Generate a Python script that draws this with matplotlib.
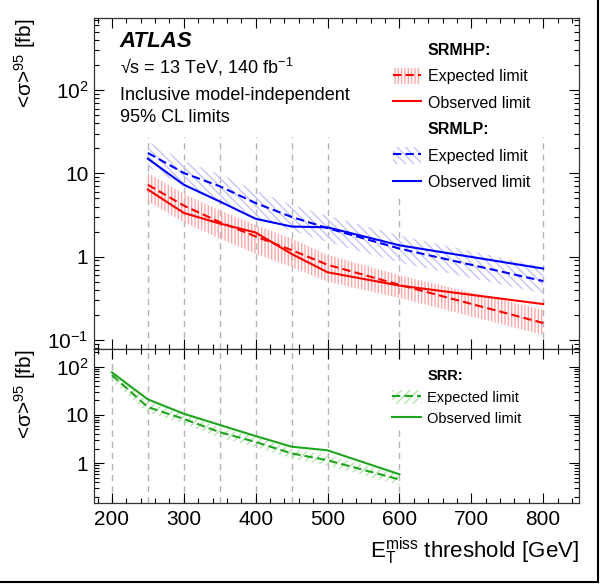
import matplotlib

matplotlib.use("Agg")
import matplotlib.pyplot as plt
from matplotlib.lines import Line2D
from matplotlib.patches import Patch
from matplotlib.ticker import FixedLocator, FuncFormatter, LogLocator, MultipleLocator, NullFormatter

plt.rcParams["font.family"] = ["Liberation Sans", "DejaVu Sans"]
plt.rcParams["mathtext.fontset"] = "custom"
plt.rcParams["mathtext.rm"] = "Liberation Sans"
plt.rcParams["mathtext.it"] = "Liberation Sans:italic"
plt.rcParams["mathtext.bf"] = "Liberation Sans:bold"
plt.rcParams["hatch.linewidth"] = 1.0

# ---- data ----
x_mhp = [250, 300, 350, 400, 450, 500, 600, 800]
mhp_exp = [7.3, 4.1, 2.6, 1.75, 1.2, 0.8, 0.46, 0.16]
mhp_obs = [6.4, 3.35, 2.5, 1.95, 1.08, 0.65, 0.45, 0.27]
mhp_lo = [4.6, 2.6, 1.65, 1.08, 0.75, 0.5, 0.32, 0.115]
mhp_hi = [10.1, 5.7, 3.6, 2.4, 1.65, 1.05, 0.6, 0.23]

x_mlp = [250, 300, 350, 400, 450, 500, 600, 800]
mlp_exp = [17.6, 10.1, 7.0, 4.4, 3.0, 2.2, 1.25, 0.51]
mlp_obs = [15.0, 7.3, 4.6, 2.85, 2.3, 2.25, 1.37, 0.72]
mlp_lo = [12.0, 7.0, 4.8, 3.0, 2.05, 1.5, 0.85, 0.36]
mlp_hi = [24.0, 14.0, 9.8, 6.2, 4.2, 3.1, 1.8, 0.75]

x_rr = [200, 250, 300, 350, 400, 450, 500, 600]
rr_exp = [67, 14.5, 8.3, 4.4, 2.75, 1.6, 1.15, 0.46]
rr_obs = [76, 21.0, 10.6, 6.2, 3.65, 2.2, 1.85, 0.59]
rr_lo = [50, 11.2, 6.5, 3.4, 2.15, 1.25, 0.9, 0.35]
rr_hi = [85, 18.4, 10.4, 5.5, 3.45, 2.0, 1.45, 0.58]

top_yticks = [0.1, 1, 10, 100]
bot_yticks = [1, 10, 100]

RED, BLUE, GREEN = "#ff0000", "#0000ff", "#1fa51f"
RED_H, BLUE_H, GREEN_H = "#ffa8a8", "#c4c4f8", "#b4e2ae"
HATCH_MHP, HATCH_MLP, HATCH_RR = "|||||", "\\\\\\\\", "////"
GRID = "#b4b4b4"
EXP_DASH = (4, 2)


def _log_label(v, _pos=None):
    if v == 1:
        return "1"
    if v == 10:
        return "10"
    if v == 100:
        return r"$10^{2}$"
    if abs(v - 0.1) < 1e-9:
        return r"$10^{-1}$"
    return ""


def _style_axis(ax, ylim):
    ax.set_xlim(175, 850)
    ax.set_yscale("log")
    ax.set_ylim(*ylim)
    ax.xaxis.set_major_locator(MultipleLocator(100))
    ax.xaxis.set_minor_locator(MultipleLocator(20))
    ax.yaxis.set_minor_locator(LogLocator(base=10, subs=range(2, 10), numticks=20))
    ax.yaxis.set_minor_formatter(NullFormatter())
    ax.tick_params(which="both", direction="in", top=True, right=True, labelsize=15, width=0.8)
    ax.tick_params(which="major", length=7.5)
    ax.tick_params(which="minor", length=3.8)
    ax.tick_params(axis="x", pad=5)
    ax.tick_params(axis="y", pad=4)
    for sp in ax.spines.values():
        sp.set_linewidth(0.9)
        sp.set_color("#333333")


def _band(ax, x, lo, hi, exp, obs, color, hcolor, hatch):
    ax.fill_between(x, lo, hi, facecolor="none", edgecolor=hcolor, hatch=hatch, linewidth=0, zorder=2)
    ax.plot(x, exp, color=color, lw=1.5, dashes=EXP_DASH, zorder=3)
    ax.plot(x, obs, color=color, lw=1.5, zorder=3)


def _handles(color, hcolor, hatch):
    exp = (Patch(facecolor="none", edgecolor=hcolor, hatch=hatch, linewidth=0),
           Line2D([], [], color=color, lw=1.5, dashes=EXP_DASH))
    obs = Line2D([], [], color=color, lw=1.5)
    return exp, obs


fig = plt.figure(figsize=(6.02, 5.85), dpi=100)
ax_top = fig.add_axes([0.156, 0.4034, 0.806, 0.5658])
ax_bot = fig.add_axes([0.156, 0.1402, 0.806, 0.2632])

_style_axis(ax_top, (0.078, 731))
_style_axis(ax_bot, (0.15, 232))

ax_top.yaxis.set_major_locator(FixedLocator(top_yticks))
ax_top.yaxis.set_major_formatter(FuncFormatter(_log_label))
ax_top.tick_params(axis="x", labelbottom=False)
ax_bot.yaxis.set_major_locator(FixedLocator(bot_yticks))
ax_bot.yaxis.set_major_formatter(FuncFormatter(_log_label))

# threshold guide lines
ax_top.vlines(x_mhp, 0.078, 27, colors=GRID, lw=1.0, linestyles=(0, (4.5, 3.5)), zorder=1)
ax_bot.vlines(x_rr, 0.15, 232, colors=GRID, lw=1.0, linestyles=(0, (4.5, 3.5)), zorder=1)

_band(ax_top, x_mhp, mhp_lo, mhp_hi, mhp_exp, mhp_obs, RED, RED_H, HATCH_MHP)
_band(ax_top, x_mlp, mlp_lo, mlp_hi, mlp_exp, mlp_obs, BLUE, BLUE_H, HATCH_MLP)
_band(ax_bot, x_rr, rr_lo, rr_hi, rr_exp, rr_obs, GREEN, GREEN_H, HATCH_RR)

ylab = r"<σ>$^{95}$ [fb]"
for ax in (ax_top, ax_bot):
    ax.set_ylabel(ylab, fontsize=15, loc="top")
    ax.yaxis.set_label_coords(-0.115, 1.0)
ax_bot.set_xlabel(r"$\mathrm{E}_{\mathrm{T}}^{\mathrm{miss}}$ threshold [GeV]", fontsize=16, loc="right")
ax_bot.xaxis.set_label_coords(1.0, -0.21)

# ATLAS label block
ax_top.text(0.053, 0.912, "ATLAS", transform=ax_top.transAxes, fontsize=16,
            fontweight="bold", fontstyle="italic")
ax_top.text(0.053, 0.833, "√s = 13 TeV, 140 fb$^{-1}$", transform=ax_top.transAxes, fontsize=13)
ax_top.text(0.053, 0.752, "Inclusive model-independent", transform=ax_top.transAxes, fontsize=13)
ax_top.text(0.053, 0.686, "95% CL limits", transform=ax_top.transAxes, fontsize=13)

blank = Line2D([], [], linestyle="none")
mhp_e, mhp_o = _handles(RED, RED_H, HATCH_MHP)
mlp_e, mlp_o = _handles(BLUE, BLUE_H, HATCH_MLP)
leg = ax_top.legend(
    [blank, mhp_e, mhp_o, blank, mlp_e, mlp_o],
    ["SRMHP:", "Expected limit", "Observed limit", "SRMLP:", "Expected limit", "Observed limit"],
    loc="upper left", bbox_to_anchor=(0.606, 0.944), fontsize=11.5, frameon=True,
    facecolor="white", edgecolor="none", framealpha=1, fancybox=False,
    borderaxespad=0, borderpad=0.3, labelspacing=0.62, handlelength=1.8,
    handleheight=1.2, handletextpad=0.4,
)
leg.set_zorder(5)
for i in (0, 3):
    leg.get_texts()[i].set_fontweight("bold")

rr_e, rr_o = _handles(GREEN, GREEN_H, HATCH_RR)
leg2 = ax_bot.legend(
    [blank, rr_e, rr_o], ["SRR:", "Expected limit", "Observed limit"],
    loc="upper left", bbox_to_anchor=(0.606, 0.902), fontsize=10.5, frameon=True,
    facecolor="white", edgecolor="none", framealpha=1, fancybox=False,
    borderaxespad=0, borderpad=0.3, labelspacing=0.42, handlelength=2.0,
    handleheight=1.1, handletextpad=0.4,
)
leg2.set_zorder(5)
leg2.get_texts()[0].set_fontweight("bold")

# thin frame lines at the right and bottom edges of the image
fig.add_artist(Line2D([0, 0.993], [0.005, 0.005], color="black", lw=1.5, transform=fig.transFigure))
fig.add_artist(Line2D([0.993, 0.993], [0.005, 1.0], color="black", lw=1.5, transform=fig.transFigure))

fig.savefig("out.png", dpi=100)
